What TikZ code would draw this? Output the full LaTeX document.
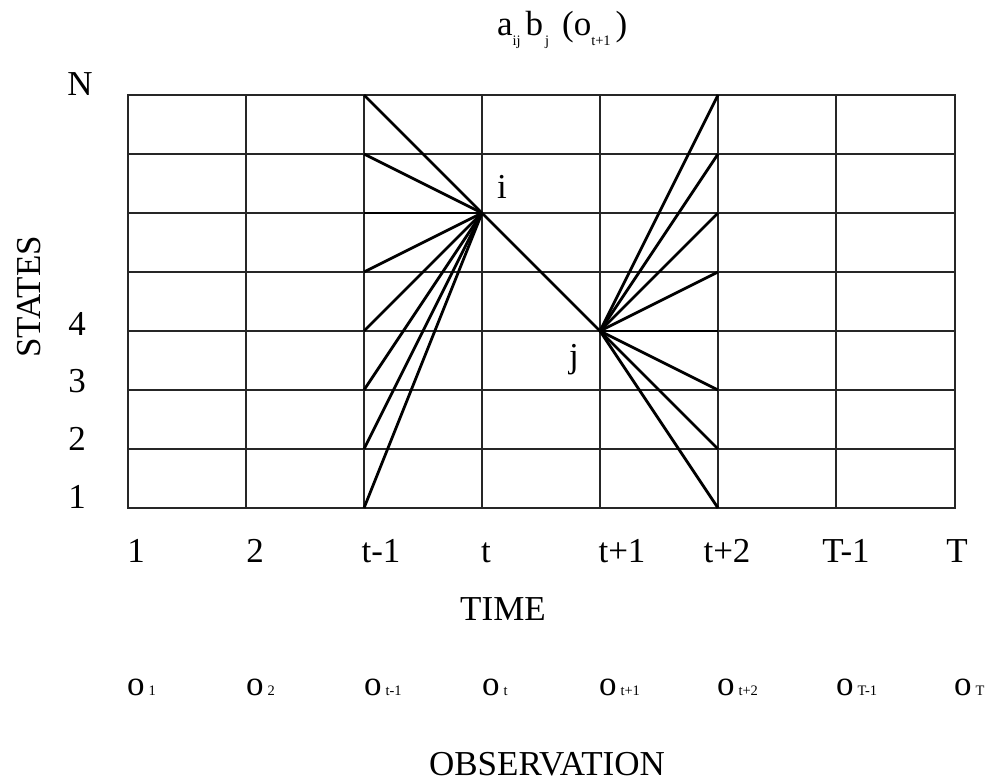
\documentclass[tikz,border=0pt]{standalone}
\usepackage{fontspec}
\setmainfont{Liberation Serif}
\newcommand\bigfnt{\fontsize{35}{40}\selectfont}
\newcommand\subfnt{\fontsize{14.5}{15}\selectfont}
\begin{document}
\begin{tikzpicture}[x=1pt,y=-1pt,
  gridline/.style={draw=black!85,line width=1.2pt},
  fan/.style={draw=black,line width=2.8pt},
  lbl/.style={inner sep=0pt,outer sep=0pt,anchor=base,font=\bigfnt},
  obs/.style={inner sep=0pt,outer sep=0pt,anchor=base west,font=\bigfnt}]
\useasboundingbox (0,0) rectangle (993,782);
% grid
\foreach \x in {246,364,482,600,718,836}
  \draw[gridline] (\x,95) -- (\x,508);
\foreach \y in {154,213,272,331,390,449}
  \draw[gridline] (128,\y) -- (955,\y);
\draw[gridline] (128,95) rectangle (955,508);
% fan nodes
\coordinate (i) at (482,213);
\coordinate (j) at (600,331);
\foreach \y [count=\k] in {95,154,213,272,331,390,449,508} {
  \coordinate (L\k) at (364,\y);
  \coordinate (R\k) at (718,\y);
}
\foreach \k in {1,...,8} {
  \draw[fan] (i) -- (L\k);
  \draw[fan] (j) -- (R\k);
}
\draw[fan] (i) -- (j);
% title
\node[obs] (title) at (497,35) {a\raisebox{-10pt}{\subfnt ij}\hspace{5pt}b\hspace{2pt}\raisebox{-10pt}{\subfnt j}\hspace{13pt}(o\raisebox{-10pt}{\subfnt t+1}\hspace{5pt})};
% labels i j
\node[lbl] (li) at (502,198) {i};
\node[lbl] (lj) at (574,367) {j};
% state labels
\node[lbl] (sN) at (80,95) {N};
\node[lbl] (s4) at (77,335) {4};
\node[lbl] (s3) at (77,392) {3};
\node[lbl] (s2) at (77,450) {2};
\node[lbl] (s1) at (77,508) {1};
\node[inner sep=0pt,font=\bigfnt,rotate=90] (states) at (29,297) {STATES};
% time labels
\node[lbl] (t1) at (136,562) {1};
\node[lbl] (t2) at (255,562) {2};
\node[lbl] (t3) at (381,562) {t-1};
\node[lbl] (t4) at (486,562) {t};
\node[lbl] (t5) at (622,562) {t+1};
\node[lbl] (t6) at (727,562) {t+2};
\node[lbl] (t7) at (846,562) {T-1};
\node[lbl] (t8) at (957,562) {T};
\node[lbl] (time) at (503,620) {TIME};
% observations
\node[obs] (o1) at (127,695) {o\hspace{4pt}{\subfnt 1}};
\node[obs] (o2) at (246,695) {o\hspace{4pt}{\subfnt 2}};
\node[obs] (o3) at (364,695) {o\hspace{4pt}{\subfnt t-1}};
\node[obs] (o4) at (482,695) {o\hspace{4pt}{\subfnt t}};
\node[obs] (o5) at (599,695) {o\hspace{4pt}{\subfnt t+1}};
\node[obs] (o6) at (717,695) {o\hspace{4pt}{\subfnt t+2}};
\node[obs] (o7) at (836,695) {o\hspace{4pt}{\subfnt T-1}};
\node[obs] (o8) at (954,695) {o\hspace{4pt}{\subfnt T}};
\node[lbl] (observation) at (547,775) {OBSERVATION};
\end{tikzpicture}
\end{document}
